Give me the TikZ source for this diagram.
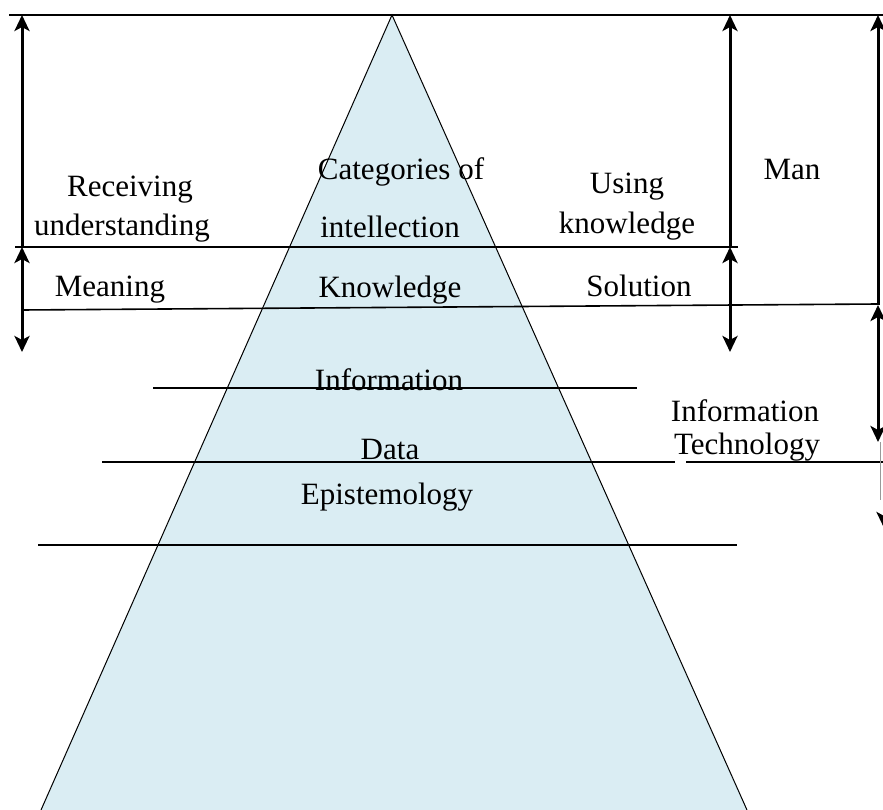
\documentclass[tikz,border=0pt]{standalone}
\usepackage{fontspec}
\setmainfont{Liberation Serif}
\usetikzlibrary{arrows.meta}
\definecolor{paleblue}{RGB}{218,237,243}

\begin{document}
\begin{tikzpicture}[x=1pt,y=-1pt]
        \tikzstyle{word}=[font=\fontsize{31}{35}\selectfont,inner sep=0pt]
        \tikzstyle{rule}=[line width=1.6pt]
        \tikzstyle{span}=[line width=3pt,-{Stealth[length=16pt,width=15pt,inset=4pt]}]
        \tikzstyle{twospan}=[line width=3pt,{Stealth[length=16pt,width=15pt,inset=4pt]}-{Stealth[length=16pt,width=15pt,inset=4pt]}]
  \useasboundingbox (0,0) rectangle (883,810);
  \clip (0,0) rectangle (883,810);
  % pyramid
  \coordinate (P_top) at (392,15);
  \coordinate (P_left) at (41,810);
  \coordinate (P_right) at (747,810);
  \fill[paleblue] (P_top) -- (P_left) -- (P_right) -- cycle;
  \draw[line width=1pt] (P_left) -- (P_top) -- (P_right);
  % level lines
  \coordinate (R_0a) at (9,15);    \coordinate (R_0b) at (883,15);
  \coordinate (R_1a) at (15,247);  \coordinate (R_1b) at (738,247);
  \coordinate (R_2a) at (22,310);  \coordinate (R_2b) at (878,304);
  \coordinate (R_3a) at (153,388); \coordinate (R_3b) at (637,388);
  \coordinate (R_4a) at (102,462); \coordinate (R_4b) at (675,462);
  \coordinate (R_5a) at (686,462); \coordinate (R_5b) at (883,462);
  \coordinate (R_6a) at (38,545);  \coordinate (R_6b) at (737,545);
  \draw[line width=2pt] (R_0a) -- (R_0b);
  \draw[rule] (R_1a) -- (R_1b);
  \draw[rule] (R_2a) -- (R_2b);
  \draw[rule] (R_3a) -- (R_3b);
  \draw[rule] (R_4a) -- (R_4b);
  \draw[rule] (R_5a) -- (R_5b);
  \draw[rule] (R_6a) -- (R_6b);
  % spans
  \coordinate (S_1) at (22,247);  \coordinate (S_1t) at (22,15);  \coordinate (S_1b) at (22,352);
  \coordinate (S_2) at (730,247); \coordinate (S_2t) at (730,15); \coordinate (S_2b) at (730,352);
  \coordinate (S_3) at (878,305); \coordinate (S_3t) at (878,15); \coordinate (S_3b) at (878,442);
  \coordinate (S_4t) at (884,470); \coordinate (S_4b) at (884,528);
  \draw[span] (S_1) -- (S_1t);
  \draw[twospan] (S_1) -- (S_1b);
  \draw[span] (S_2) -- (S_2t);
  \draw[twospan] (S_2) -- (S_2b);
  \draw[span] (S_3) -- (S_3t);
  \draw[twospan] (S_3) -- (S_3b);
  \draw[black!40,line width=1pt] (880,442) -- (880,500);
  \draw[span] (S_4t) -- (S_4b);
  % texts
  \node[word] (W_1) at (130,190) {Receiving};
  \node[word] (W_2) at (122,228) {understanding};
  \node[word] (W_3) at (401,172) {Categories of};
  \node[word] (W_4) at (390,227) {intellection};
  \node[word] (W_5) at (627,187) {Using};
  \node[word] (W_6) at (627,226) {knowledge};
  \node[word] (W_7) at (792,170) {Man};
  \node[word] (W_8) at (110,290) {Meaning};
  \node[word] (W_9) at (390,290) {Knowledge};
  \node[word] (W_10) at (639,286) {Solution};
  \node[word] (W_11) at (389,380) {Information};
  \node[word] (W_12) at (745,411) {Information};
  \node[word] (W_13) at (747,447) {Technology};
  \node[word] (W_14) at (390,449) {Data};
  \node[word] (W_15) at (387,497) {Epistemology};
    \end{tikzpicture}
\end{document}
